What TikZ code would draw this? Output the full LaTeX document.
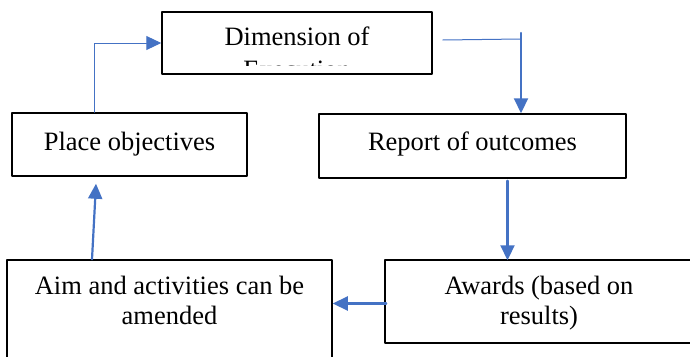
\documentclass[tikz,border=0pt]{standalone}
\usepackage{fontspec}
\setmainfont{Liberation Serif}
\usetikzlibrary{arrows.meta}

\definecolor{flowblue}{HTML}{4472C4}

\begin{document}
\begin{tikzpicture}[x=1pt, y=-1pt, line cap=round, line join=round,
  box/.style={draw, line width=1.5pt, inner sep=0pt},
  txt/.style={inner sep=0pt, anchor=base, align=center, font=\rmfamily\fontsize{26.5}{30}\selectfont},
  flow/.style={draw=flowblue, line width=2.2pt, -{Triangle[length=15pt, width=14pt]}},
  link/.style={draw=flowblue, line width=1pt}]

  %% ════ canvas ════
  \clip (0,0) rectangle (690,356);

  %% ════ boxes ════
  \node[box, minimum width=270pt, minimum height=62pt] (dim) at (297,43) {};
  \node[box, minimum width=235pt, minimum height=63pt] (place) at (129.5,144.5) {};
  \node[box, minimum width=307pt, minimum height=64pt] (report) at (472.5,146) {};
  \node[box, minimum width=325pt, minimum height=110pt] (aim) at (169.5,315) {};
  \node[box, minimum width=308pt, minimum height=83pt] (awards) at (539,301.5) {};

  %% ════ labels (base = last line) ════
  % second line cut by the text area, only the tops of tall letters show
  \begin{scope}
    \clip (dim.north west) rectangle ([yshift=9.5pt]dim.south east);
    \node[txt, font=\rmfamily\fontsize{26.5}{33}\selectfont] at ([yshift=-67pt]dim.north) {Dimension of\\Execution};
  \end{scope}
  \node[txt] at (place.center |- 0,150) {Place objectives};
  \node[txt] at (report.center |- 0,150) {Report of outcomes};
  \node[txt] at ([yshift=-65pt]aim.north) {Aim and activities can be\\amended};
  \node[txt] at ([yshift=-65pt]awards.north) {Awards (based on\\results)};

  %% ════ connectors ════
  \coordinate (turn) at (521,33);
  \draw[link] ([xshift=10pt, yshift=3pt]dim.east) -- (turn |- 0,39);
  \draw[flow] (turn) -- (turn |- report.north);
  \draw[flow] ([xshift=35pt, yshift=-2pt]report.south) -- ([xshift=35pt, yshift=-1pt]report.south |- awards.north);
  \draw[flow] ([xshift=2pt, yshift=-2pt]awards.west) -- ([yshift=-2pt]aim.east |- awards.west);
  \draw[flow] ([xshift=-77.5pt]aim.north) -- ([xshift=-33.5pt, yshift=-7pt]place.south);
  \draw[link, -{Triangle[length=15pt, width=14pt]}] ([xshift=-35.5pt]place.north) |- (dim.west);
\end{tikzpicture}
\end{document}
